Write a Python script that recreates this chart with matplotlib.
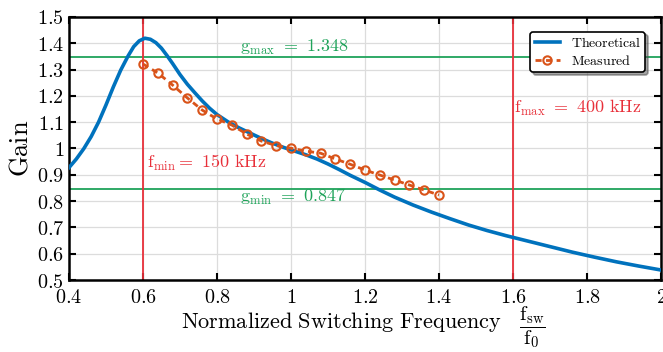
import matplotlib
matplotlib.use('Agg')
import matplotlib.pyplot as plt

# theoretical gain curve
theo_x = [0.40, 0.42, 0.44, 0.46, 0.48, 0.50, 0.52, 0.54, 0.56, 0.575, 0.59, 0.605,
          0.62, 0.635, 0.65, 0.665, 0.68, 0.70, 0.72, 0.74, 0.76, 0.78, 0.80, 0.83,
          0.86, 0.89, 0.92, 0.95, 0.98, 1.01, 1.04, 1.07, 1.10, 1.13, 1.16, 1.20,
          1.24, 1.28, 1.33, 1.38, 1.43, 1.48, 1.53, 1.58, 1.64, 1.70, 1.76, 1.82,
          1.88, 1.94, 2.00]
theo_y = [0.927, 0.960, 0.999, 1.045, 1.100, 1.165, 1.234, 1.298, 1.352, 1.387, 1.409, 1.419,
          1.415, 1.402, 1.381, 1.353, 1.323, 1.281, 1.244, 1.212, 1.181, 1.153, 1.129, 1.101,
          1.078, 1.058, 1.038, 1.020, 1.004, 0.990, 0.976, 0.960, 0.941, 0.920, 0.898, 0.871,
          0.842, 0.815, 0.785, 0.758, 0.733, 0.709, 0.688, 0.669, 0.648, 0.627, 0.606, 0.587,
          0.569, 0.553, 0.538]

# measured points
meas_x = [0.60, 0.64, 0.68, 0.72, 0.76, 0.80, 0.84, 0.88, 0.92, 0.96, 1.00,
          1.04, 1.08, 1.12, 1.16, 1.20, 1.24, 1.28, 1.32, 1.36, 1.40]
meas_y = [1.321, 1.287, 1.241, 1.192, 1.146, 1.112, 1.089, 1.055, 1.028, 1.011, 1.001,
          0.990, 0.982, 0.960, 0.940, 0.918, 0.899, 0.880, 0.861, 0.842, 0.823]

g_max = 1.348
g_min = 0.847
f_min = 0.6
f_max = 1.6

xticks = [0.4, 0.6, 0.8, 1.0, 1.2, 1.4, 1.6, 1.8, 2.0]
xtick_labels = ['0.4', '0.6', '0.8', '1', '1.2', '1.4', '1.6', '1.8', '2']
yticks = [0.5, 0.6, 0.7, 0.8, 0.9, 1.0, 1.1, 1.2, 1.3, 1.4, 1.5]
ytick_labels = ['0.5', '0.6', '0.7', '0.8', '0.9', '1', '1.1', '1.2', '1.3', '1.4', '1.5']

plt.rcParams['mathtext.fontset'] = 'cm'

blue = '#0072BD'
orange = '#D95319'
red = '#E8303A'
green = '#1FA35A'

fig = plt.figure(figsize=(6.63, 3.52), dpi=100)
ax = fig.add_axes([0.104, 0.2045, 0.893, 0.7475])

ax.axhline(g_max, color=green, lw=1.3, zorder=2)
ax.axhline(g_min, color=green, lw=1.3, zorder=2)
ax.axvline(f_min, color=red, lw=1.3, zorder=2)
ax.axvline(f_max, color=red, lw=1.3, zorder=2)

ax.plot(theo_x, theo_y, color=blue, lw=2.6, label=r'$\mathrm{Theoretical}$', zorder=3)
ax.plot(meas_x, meas_y, color=orange, lw=2.0, ls=(0, (2.2, 1.6)), marker='o',
        markersize=6, markerfacecolor='none', markeredgewidth=1.5,
        label=r'$\mathrm{Measured}$', zorder=4)

ax.text(0.862, 1.367, r'$\mathrm{g_{max}}$ $=$ $1.348$', color=green, fontsize=13)
ax.text(0.862, 0.816, r'$\mathrm{g_{min}}$ $=$ $0.847$', color=green, fontsize=13, va='center')
ax.text(0.612, 0.945, r'$\mathrm{f_{min}}$$=$ $150\ \mathrm{kHz}$', color=red, fontsize=13, va='center')
ax.text(1.603, 1.154, r'$\mathrm{f_{max}}$ $=$ $400\ \mathrm{kHz}$', color=red, fontsize=13, va='center')

ax.set_xlim(0.4, 2.0)
ax.set_ylim(0.5, 1.5)
ax.set_xticks(xticks)
ax.set_xticklabels(['$' + s + '$' for s in xtick_labels])
ax.set_yticks(yticks)
ax.set_yticklabels(['$' + s + '$' for s in ytick_labels])
ax.tick_params(direction='in', length=5, width=1.5, labelsize=14.5, top=True, right=True)
ax.tick_params(axis='x', pad=6)
ax.grid(True, color='#dcdcdc', lw=0.9)
ax.set_axisbelow(True)
for s in ax.spines.values():
    s.set_linewidth(1.8)

# x label split in two so the fraction sits beside the words
fig.text(341 / 663, 1 - 322 / 352, r'$\mathrm{Normalized\ Switching\ Frequency}$',
         fontsize=16, ha='center', va='center')
fig.text(532 / 663, 1 - 327 / 352, r'$\dfrac{\mathrm{f_{sw}}}{\mathrm{f_0}}$',
         fontsize=15, ha='center', va='center')
ax.set_ylabel(r'$\mathrm{Gain}$', fontsize=19, labelpad=2)

leg = ax.legend(loc='upper right', bbox_to_anchor=(0.985, 0.97), fontsize=10, frameon=True,
                fancybox=True, shadow=True, handlelength=1.8, borderpad=0.3, labelspacing=0.3)
leg.get_frame().set_edgecolor('black')
leg.get_frame().set_linewidth(1.2)
leg.get_frame().set_alpha(1)

fig.savefig('out.png', dpi=100)
plt.close(fig)
